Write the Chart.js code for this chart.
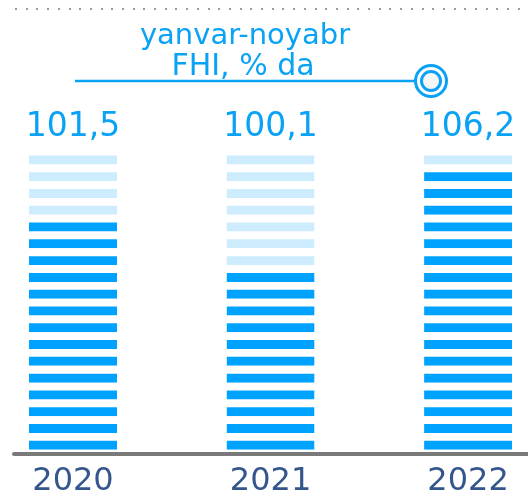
<!DOCTYPE html>
<html>
<head>
<meta charset="utf-8">
<script src="https://cdn.jsdelivr.net/npm/chart.js@4/dist/chart.umd.min.js"></script>
<style>
  html, body { margin: 0; padding: 0; background: #fff; }
  #wrap { width: 528px; height: 496px; position: relative; }
</style>
</head>
<body>
<div id="wrap"><canvas id="fhiChart"></canvas></div>
<script>
// Data
const years = ['2020', '2021', '2022'];
const values = ['101,5', '100,1', '106,2'];
const darkStripes = [14, 11, 17];   // filled stripes per bar
const totalStripes = 18;            // stripes per bar, filled + pale
const titleLines = ['yanvar-noyabr', 'FHI, % da'];

const DARK = '#00a2ff';
const LIGHT = '#cdecfd';
const TEXT_BLUE = '#0aa2f5';
const YEAR_COLOR = '#35568c';

// one stacked dataset per stripe row
const datasets = [];
for (let i = 0; i < totalStripes; i++) {
    datasets.push({
        data: years.map(() => 1),
        backgroundColor: darkStripes.map(n => i < n ? DARK : LIGHT),
        borderColor: 'rgba(0,0,0,0)',
        borderWidth: { top: 7.8, right: 0, bottom: 0, left: 0 },
        borderSkipped: false,
        inflateAmount: 0,
        barThickness: 88,
        clip: false,
    });
}

const decorPlugin = {
    id: 'decor',
    afterDraw(chart) {
        const ctx = chart.ctx;
        ctx.save();

        // dotted rule at the top
        ctx.fillStyle = '#9a9a9a';
        for (let x = 15; x < 528; x += 10.7) {
            ctx.fillRect(Math.round(x), 8, 2, 2);
        }

        // title
        ctx.fillStyle = TEXT_BLUE;
        ctx.textAlign = 'center';
        ctx.textBaseline = 'alphabetic';
        ctx.font = '29px "DejaVu Sans"';
        ctx.fillText(titleLines[0], 245, 44);
        ctx.font = '30px "DejaVu Sans"';
        ctx.fillText(titleLines[1], 243, 75);

        // line with target marker
        ctx.strokeStyle = TEXT_BLUE;
        ctx.lineWidth = 2.5;
        ctx.beginPath();
        ctx.moveTo(75, 81);
        ctx.lineTo(415, 81);
        ctx.stroke();
        ctx.lineWidth = 3;
        ctx.beginPath();
        ctx.arc(431, 81, 15.5, 0, Math.PI * 2);
        ctx.fillStyle = '#fff';
        ctx.fill();
        ctx.stroke();
        ctx.beginPath();
        ctx.arc(431, 81, 9.5, 0, Math.PI * 2);
        ctx.fillStyle = '#f6f6f6';
        ctx.fill();
        ctx.stroke();

        // value labels above bars
        const meta = chart.getDatasetMeta(totalStripes - 1);
        ctx.fillStyle = TEXT_BLUE;
        ctx.font = '33px "DejaVu Sans"';
        meta.data.forEach((bar, i) => {
            ctx.fillText(values[i], bar.x, 136);
        });

        // baseline
        ctx.strokeStyle = '#7a7a7a';
        ctx.lineWidth = 4;
        ctx.lineCap = 'round';
        ctx.beginPath();
        ctx.moveTo(14, 454);
        ctx.lineTo(540, 454);
        ctx.stroke();

        ctx.restore();
    }
};

new Chart(document.getElementById('fhiChart'), {
    type: 'bar',
    data: { labels: years, datasets: datasets },
    options: {
        responsive: true,
        maintainAspectRatio: false,
        animation: false,
        layout: { padding: { top: 147.6, left: 73, right: 55, bottom: -17.8 } },
        plugins: {
            legend: { display: false },
            tooltip: { enabled: false },
        },
        scales: {
            x: {
                stacked: true,
                offset: false,
                grid: { display: false, drawTicks: false },
                border: { display: false },
                ticks: {
                    color: YEAR_COLOR,
                    padding: 19.2,
                    font: { family: 'DejaVu Sans', size: 32, lineHeight: 0.8 },
                    maxRotation: 0,
                    autoSkip: false,
                }
            },
            y: {
                stacked: true,
                display: false,
                min: 0,
                max: totalStripes,
            }
        }
    },
    plugins: [decorPlugin]
});
</script>
</body>
</html>
